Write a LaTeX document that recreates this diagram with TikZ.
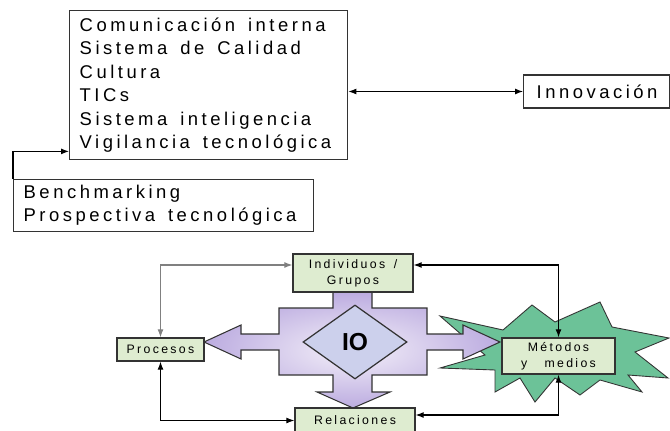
\documentclass[tikz,border=0pt]{standalone}
\usepackage{fontspec}
\usepackage{xcolor}
\usepackage{tikz}
\usetikzlibrary{arrows.meta,positioning,shapes.geometric,calc}

\setmainfont{Liberation Sans}
\newfontfamily\spaced[LetterSpace=19,WordSpace=1.5]{Liberation Sans}

\definecolor{boxGreen}{RGB}{222,236,208}
\definecolor{starGreen}{RGB}{108,194,152}
\definecolor{crossIn}{RGB}{244,240,249}
\definecolor{crossOut}{RGB}{188,172,224}
\definecolor{diaBlue}{RGB}{204,208,236}

\begin{document}
\begin{tikzpicture}[
  bigbox/.style={draw=black!80, line width=0.8pt, align=flush left,
    font=\spaced\fontsize{10.5}{13.4}\selectfont},
  greenbox/.style={draw=black!80, line width=0.8pt, fill=boxGreen, align=center,
    inner sep=1pt, font=\spaced\fontsize{7}{9}\selectfont},
  link/.style={line width=0.6pt, {Latex[length=1.6mm,width=1.2mm]}-{Latex[length=1.6mm,width=1.2mm]}},
  onelink/.style={line width=0.6pt, -{Latex[length=1.6mm,width=1.2mm]}}
]
  \useasboundingbox (0,0) rectangle (13.4,8.6);

  % Upper part: tools and innovation
  \node[bigbox, anchor=north west, text width=5.16cm, inner xsep=0.2cm,
        minimum height=2.98cm] (sistemas) at (1.38,8.4)
    {Comunicación interna\\Sistema de Calidad\\Cultura\\TICs\\Sistema inteligencia\\Vigilancia tecnológica};
  \node[bigbox, anchor=north west, text width=5.6cm, inner xsep=0.2cm,
        minimum height=1.0cm, font=\spaced\fontsize{10.5}{13}\selectfont] (bench) at (0.26,5.02)
    {Benchmarking\\Prospectiva tecnológica};
  \node[bigbox, anchor=west, text width=2.4cm, inner xsep=0.26cm,
        minimum height=0.66cm] (innov) at (10.46,6.77) {Innovación};

  \draw[link] (innov.west) -- (innov.west -| sistemas.east);
  \draw[onelink] (bench.north west) |- ($(sistemas.south west)+(0,0.18)$);

  % Starburst behind the methods box
  \filldraw[fill=starGreen, draw=black!80, line width=0.5pt]
    (8.8,2.28) -- (10.06,2.0) -- (10.64,2.5) -- (11.1,2.16) -- (12.0,2.56)
    -- (12.24,2.06) -- (13.38,1.84) -- (12.7,1.56) -- (13.36,1.04) -- (12.56,1.1)
    -- (12.84,0.76) -- (12.0,1.0) -- (11.6,0.7) -- (11.1,1.04) -- (10.7,0.56)
    -- (10.4,1.04) -- (9.9,0.76) -- (9.9,1.2) -- (8.8,1.24) -- (9.7,1.5) -- cycle;

  % Four-way arrow round IO
  \shade[inner color=crossIn, outer color=crossOut]
    (6.66,2.76) -- (6.66,2.44) -- (5.58,2.44) -- (5.58,1.92) -- (4.82,1.92)
    -- (4.82,2.1) -- (4.08,1.76) -- (4.82,1.42) -- (4.82,1.6) -- (5.58,1.6)
    -- (5.58,1.1) -- (6.66,1.1) -- (6.66,0.76) -- (6.34,0.76) -- (7.06,0.44)
    -- (7.8,0.76) -- (7.44,0.76) -- (7.44,1.1) -- (8.54,1.1) -- (8.54,1.6)
    -- (9.26,1.6) -- (9.26,1.42) -- (10.0,1.76) -- (9.26,2.1) -- (9.26,1.92)
    -- (8.54,1.92) -- (8.54,2.44) -- (7.44,2.44) -- (7.44,2.76) -- cycle;
  \draw[black!80, line width=0.6pt]
    (6.66,2.76) -- (6.66,2.44) -- (5.58,2.44) -- (5.58,1.92) -- (4.82,1.92)
    -- (4.82,2.1) -- (4.08,1.76) -- (4.82,1.42) -- (4.82,1.6) -- (5.58,1.6)
    -- (5.58,1.1) -- (6.66,1.1) -- (6.66,0.76) -- (6.34,0.76) -- (7.06,0.44)
    -- (7.8,0.76) -- (7.44,0.76) -- (7.44,1.1) -- (8.54,1.1) -- (8.54,1.6)
    -- (9.26,1.6) -- (9.26,1.42) -- (10.0,1.76) -- (9.26,2.1) -- (9.26,1.92)
    -- (8.54,1.92) -- (8.54,2.44) -- (7.44,2.44) -- (7.44,2.76) -- cycle;

  \node[diamond, draw=black!80, line width=0.7pt, fill=diaBlue, inner sep=0pt,
        minimum width=2.08cm, minimum height=1.48cm,
        font=\bfseries\fontsize{14}{14}\selectfont] (io) at (7.1,1.76) {IO};

  % Green boxes
  \node[greenbox, minimum width=2.4cm, minimum height=0.76cm] (indiv) at (7.06,3.14) {Individuos /\\Grupos};
  \node[greenbox, minimum width=1.74cm, minimum height=0.46cm] (proc) at (3.21,1.61) {Procesos};
  \node[greenbox, minimum width=2.4cm, minimum height=0.5cm] (rel) at (7.1,0.19) {Relaciones};
  \node[greenbox, minimum width=2.26cm, minimum height=0.72cm] (meto) at (11.17,1.48) {Métodos\\y \ medios};

  % Connectors
  \draw[link, gray] (proc.north) |- ($(indiv.west)+(0,0.16)$);
  \draw[link] (meto.north) |- ($(indiv.east)+(0,0.16)$);
  \draw[link] (proc.south) |- (rel.west);
  \draw[link] (meto.south) |- ($(rel.east)+(0,0.11)$);
\end{tikzpicture}
\end{document}
